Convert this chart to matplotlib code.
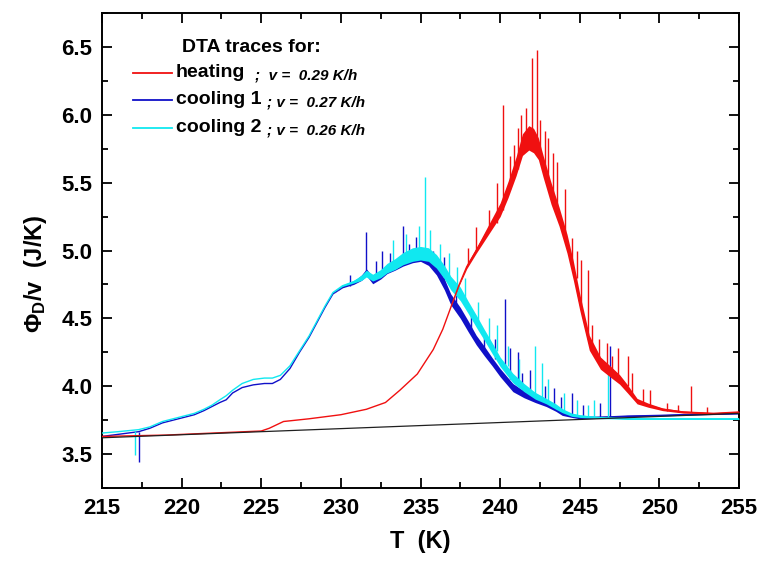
import numpy as np
import matplotlib
matplotlib.use("Agg")
import matplotlib.pyplot as plt
from matplotlib.ticker import MultipleLocator

plt.rcParams['font.family'] = ['Liberation Sans', 'DejaVu Sans']
plt.rcParams['font.weight'] = 'bold'
plt.rcParams['mathtext.fontset'] = 'custom'
plt.rcParams['mathtext.rm'] = 'Liberation Sans:bold'
plt.rcParams['mathtext.it'] = 'Liberation Sans:bold:italic'
plt.rcParams['mathtext.bf'] = 'Liberation Sans:bold'

# ---------------- data ----------------
# heating trace (base curve), half-width of noise band
heat_T = [215, 217, 219, 221, 223, 225, 225.5, 226.4, 228, 230, 231.6, 232.8, 233.7, 234.8, 235.8,
          236.4, 236.9, 237.4, 237.9, 238.5, 239.0, 239.5, 240.0, 240.5, 241.0, 241.4, 241.8, 242.1,
          242.4, 242.7, 243.2, 243.7, 244.2, 244.6, 245.0, 245.6, 246.3, 247.0, 247.5, 248.0, 248.6,
          249.3, 250.2, 251.5, 253.4, 255]
heat_val = [3.63, 3.635, 3.64, 3.65, 3.66, 3.67, 3.69, 3.74, 3.76, 3.79, 3.83, 3.88, 3.97, 4.09, 4.27,
            4.42, 4.58, 4.74, 4.88, 5.00, 5.10, 5.20, 5.30, 5.45, 5.62, 5.78, 5.83, 5.81,
            5.75, 5.62, 5.42, 5.25, 5.05, 4.85, 4.62, 4.32, 4.17, 4.10, 4.05, 3.98, 3.89,
            3.86, 3.83, 3.81, 3.80, 3.81]
heat_noise = [0, 0, 0, 0, 0, 0, 0, 0, 0, 0, 0, 0, 0, 0, 0,
              0, 0, 0.005, 0.015, 0.02, 0.03, 0.04, 0.05, 0.06, 0.07, 0.08, 0.09, 0.09,
              0.08, 0.08, 0.08, 0.07, 0.07, 0.07, 0.06, 0.055, 0.045, 0.04, 0.035, 0.03, 0.02,
              0.015, 0.01, 0.008, 0.005, 0.005]
heat_spk_T = [238.0, 238.5, 239.3, 239.8, 240.2, 240.6, 240.9, 241.1, 241.3, 241.6, 242.0, 242.3,
              242.5, 242.8, 243.0, 243.3, 243.6, 244.1, 244.5, 244.8, 245.1, 245.5, 245.8, 246.2,
              246.7, 247.0, 247.4, 248.0, 248.3, 249.0, 249.4, 250.5, 251.2, 252.0, 253.0]
heat_spk_lo = [4.90, 5.00, 5.15, 5.20, 5.30, 5.45, 5.55, 5.60, 5.70, 5.80, 5.80, 5.80,
               5.75, 5.62, 5.50, 5.40, 5.30, 5.10, 4.90, 4.80, 4.60, 4.35, 4.25, 4.20,
               4.15, 4.10, 4.05, 4.00, 3.95, 3.88, 3.86, 3.82, 3.81, 3.81, 3.80]
heat_spk_hi = [5.02, 5.17, 5.30, 5.50, 6.07, 5.70, 5.78, 5.90, 6.00, 6.05, 6.42, 6.48,
               5.96, 5.88, 5.83, 5.72, 5.65, 5.45, 5.09, 5.00, 4.93, 4.86, 4.45, 4.35,
               4.32, 4.22, 4.28, 4.22, 4.10, 3.98, 3.97, 3.88, 3.86, 4.00, 3.85]

# cooling 1 trace
cool1_T = [215, 216, 217.3, 218, 218.8, 219.8, 220.8, 221.4, 221.9, 222.4, 222.8, 223.2, 223.8, 224.5,
           225.2, 225.7, 226.2, 226.8, 227.4, 228.0, 228.5, 229.0, 229.5, 230.1, 230.8, 231.3, 231.6,
           232.0, 232.5, 232.9, 233.4, 233.9, 234.5, 235.0, 235.5, 236.0, 236.5, 236.9, 237.5, 238.0,
           238.5, 239.0, 239.5, 240.0, 240.8, 241.5, 242.2, 242.9, 243.5, 243.9, 244.5, 245.0, 246.0,
           247.1, 248, 250, 251.3, 253, 255]
cool1_val = [3.63, 3.645, 3.665, 3.69, 3.73, 3.76, 3.79, 3.82, 3.85, 3.88, 3.90, 3.95, 3.99, 4.01,
             4.02, 4.02, 4.05, 4.13, 4.25, 4.36, 4.47, 4.58, 4.68, 4.73, 4.76, 4.80, 4.84,
             4.78, 4.82, 4.86, 4.89, 4.92, 4.95, 4.96, 4.93, 4.86, 4.75, 4.64, 4.54, 4.44,
             4.34, 4.26, 4.18, 4.10, 3.99, 3.94, 3.90, 3.87, 3.83, 3.80, 3.78, 3.77, 3.77,
             3.775, 3.78, 3.785, 3.79, 3.795, 3.80]
cool1_noise = [0, 0, 0, 0, 0, 0, 0, 0, 0, 0, 0, 0, 0, 0,
               0, 0, 0, 0, 0, 0, 0, 0, 0, 0.005, 0.01, 0.02, 0.025,
               0.025, 0.03, 0.03, 0.035, 0.035, 0.04, 0.04, 0.04, 0.04, 0.04, 0.04, 0.04, 0.04,
               0.035, 0.035, 0.03, 0.03, 0.03, 0.025, 0.02, 0.02, 0.015, 0.015, 0.01, 0.01, 0.008,
               0.006, 0.005, 0.005, 0.005, 0.005, 0.005]
cool1_spk_T = [217.3, 230.6, 231.6, 232.2, 232.6, 233.1, 233.9, 234.3, 234.7, 235.8, 236.5, 237.2,
               238.2, 239.0, 239.7, 240.3, 240.6, 241.1, 241.4, 241.9, 242.8, 243.4, 243.8, 244.5,
               245.2, 246.3, 246.9]
cool1_spk_lo = [3.665, 4.74, 4.84, 4.80, 4.82, 4.87, 4.92, 4.94, 4.95, 4.88, 4.75, 4.60,
                4.42, 4.26, 4.20, 4.12, 4.05, 4.00, 3.96, 3.92, 3.87, 3.84, 3.81, 3.79,
                3.77, 3.77, 3.77]
cool1_spk_hi = [3.44, 4.82, 5.14, 4.92, 5.00, 4.98, 5.18, 5.05, 5.10, 5.00, 4.95, 4.72,
                4.55, 4.40, 4.35, 4.64, 4.28, 4.25, 4.10, 4.12, 4.00, 3.99, 3.92, 3.95,
                3.86, 3.88, 4.30]

# cooling 2 trace
cool2_T = [215, 216, 217.3, 218, 218.8, 219.8, 220.8, 221.4, 221.9, 222.4, 222.8, 223.2, 223.8, 224.5,
           225.2, 225.7, 226.2, 226.8, 227.4, 228.0, 228.5, 229.0, 229.5, 230.1, 230.8, 231.3, 231.6,
           232.0, 232.5, 232.9, 233.4, 233.9, 234.5, 235.0, 235.5, 236.0, 236.5, 236.9, 237.5, 238.0,
           238.5, 239.0, 239.5, 240.0, 240.8, 241.5, 242.2, 242.9, 243.5, 243.9, 244.5, 245.0, 246.0,
           247.1, 248, 250, 251.3, 253, 255]
cool2_val = [3.655, 3.665, 3.68, 3.70, 3.74, 3.77, 3.80, 3.83, 3.86, 3.90, 3.93, 3.97, 4.02, 4.05,
             4.06, 4.06, 4.08, 4.15, 4.26, 4.37, 4.48, 4.59, 4.69, 4.74, 4.77, 4.80, 4.83,
             4.80, 4.83, 4.87, 4.90, 4.94, 4.97, 4.98, 4.97, 4.92, 4.84, 4.76, 4.68, 4.58,
             4.48, 4.38, 4.28, 4.18, 4.06, 3.99, 3.93, 3.89, 3.85, 3.82, 3.79, 3.78, 3.77,
             3.765, 3.76, 3.76, 3.76, 3.76, 3.76]
cool2_noise = [0, 0, 0, 0, 0, 0, 0, 0, 0, 0, 0, 0, 0, 0,
               0, 0, 0, 0, 0, 0, 0, 0, 0, 0.005, 0.01, 0.02, 0.025,
               0.025, 0.03, 0.035, 0.04, 0.045, 0.05, 0.05, 0.05, 0.05, 0.05, 0.05, 0.05, 0.045,
               0.045, 0.04, 0.04, 0.035, 0.035, 0.03, 0.025, 0.02, 0.02, 0.015, 0.012, 0.01, 0.008,
               0.006, 0.005, 0.005, 0.005, 0.005, 0.005]
cool2_spk_T = [217.1, 233.3, 234.1, 234.9, 235.3, 235.6, 236.2, 236.8, 237.3, 237.8, 238.6, 239.3,
               239.8, 240.5, 241.2, 242.2, 242.6, 243.0, 244.0, 244.8, 245.5, 245.9, 246.8]
cool2_spk_lo = [3.67, 4.90, 4.94, 4.97, 4.98, 4.97, 4.92, 4.80, 4.72, 4.62, 4.48, 4.33,
                4.26, 4.15, 4.02, 3.93, 3.90, 3.88, 3.82, 3.79, 3.78, 3.77, 3.77]
cool2_spk_hi = [3.49, 5.08, 5.12, 5.18, 5.54, 5.15, 5.05, 4.98, 4.88, 4.80, 4.62, 4.50,
                4.45, 4.30, 4.20, 4.30, 4.17, 4.05, 3.95, 3.90, 3.86, 3.90, 4.10]

# baseline
base_T = [215, 255]
base_val = [3.62, 3.80]

labels = ['heating', 'cooling 1', 'cooling 2']
rates = [';  v =  0.29 K/h', '; v =  0.27 K/h', '; v =  0.26 K/h']
legend_title = 'DTA traces for:'

# ---------------- plot ----------------
c_red = '#f01010'
c_blue = '#1010c8'
c_cyan = '#10e8f0'

fig = plt.figure(figsize=(7.6, 5.65), dpi=100)
ax = fig.add_axes([102/760, 1-488/565, (739-102)/760, (488-13)/565])

def trace(T, v, n, sT, slo, shi, color, z):
    T = np.array(T); v = np.array(v); n = np.array(n)
    ax.fill_between(T, v - n, v + n, color=color, lw=0, zorder=z)
    ax.plot(T, v, color=color, lw=1.0, zorder=z)
    ax.vlines(sT, slo, shi, color=color, lw=1.0, zorder=z)

trace(cool1_T, cool1_val, cool1_noise, cool1_spk_T, cool1_spk_lo, cool1_spk_hi, c_blue, 2)
trace(cool2_T, cool2_val, cool2_noise, cool2_spk_T, cool2_spk_lo, cool2_spk_hi, c_cyan, 3)
trace(heat_T, heat_val, heat_noise, heat_spk_T, heat_spk_lo, heat_spk_hi, c_red, 4)
ax.plot(base_T, base_val, color='#202020', lw=0.9, zorder=5)

ax.set_xlim(215, 255)
ax.set_ylim(3.25, 6.75)
ax.xaxis.set_major_locator(MultipleLocator(5))
ax.xaxis.set_minor_locator(MultipleLocator(2.5))
ax.yaxis.set_major_locator(MultipleLocator(0.5))
ax.yaxis.set_minor_locator(MultipleLocator(0.25))
ax.tick_params(which='both', direction='in', top=True, right=True, width=1.3, labelsize=16, pad=7)
ax.tick_params(which='major', length=7)
ax.tick_params(which='minor', length=4)
for s in ax.spines.values():
    s.set_linewidth(1.4)
for lab in ax.get_xticklabels() + ax.get_yticklabels():
    lab.set_fontweight('bold')

ax.set_xlabel('T  (K)', fontsize=17, fontweight='bold', labelpad=8)
ax.set_ylabel('Φ$_\\mathrm{D}$/v  (J/K)', fontsize=17, fontweight='bold')
ax.yaxis.set_label_coords(-0.083, 0.45)

# legend (manual placement)
ax.text(0.235, 0.928, legend_title, transform=ax.transAxes, ha='center', va='center',
        fontsize=14, fontweight='bold')
rows_y = [0.874, 0.817, 0.758]
rate_x = [0.240, 0.259, 0.259]
for lab, rate, col, yy, rx in zip(labels, rates, [c_red, c_blue, c_cyan], rows_y, rate_x):
    ax.plot([0.049, 0.110], [yy, yy], transform=ax.transAxes, color=col, lw=1.3)
    ax.text(0.116, yy, lab, transform=ax.transAxes, ha='left', va='center',
            fontsize=14, fontweight='bold')
    ax.text(rx, yy - 0.005, rate, transform=ax.transAxes, ha='left', va='center',
            fontsize=11, fontweight='bold', fontstyle='italic')

fig.savefig('out.png', dpi=100)
